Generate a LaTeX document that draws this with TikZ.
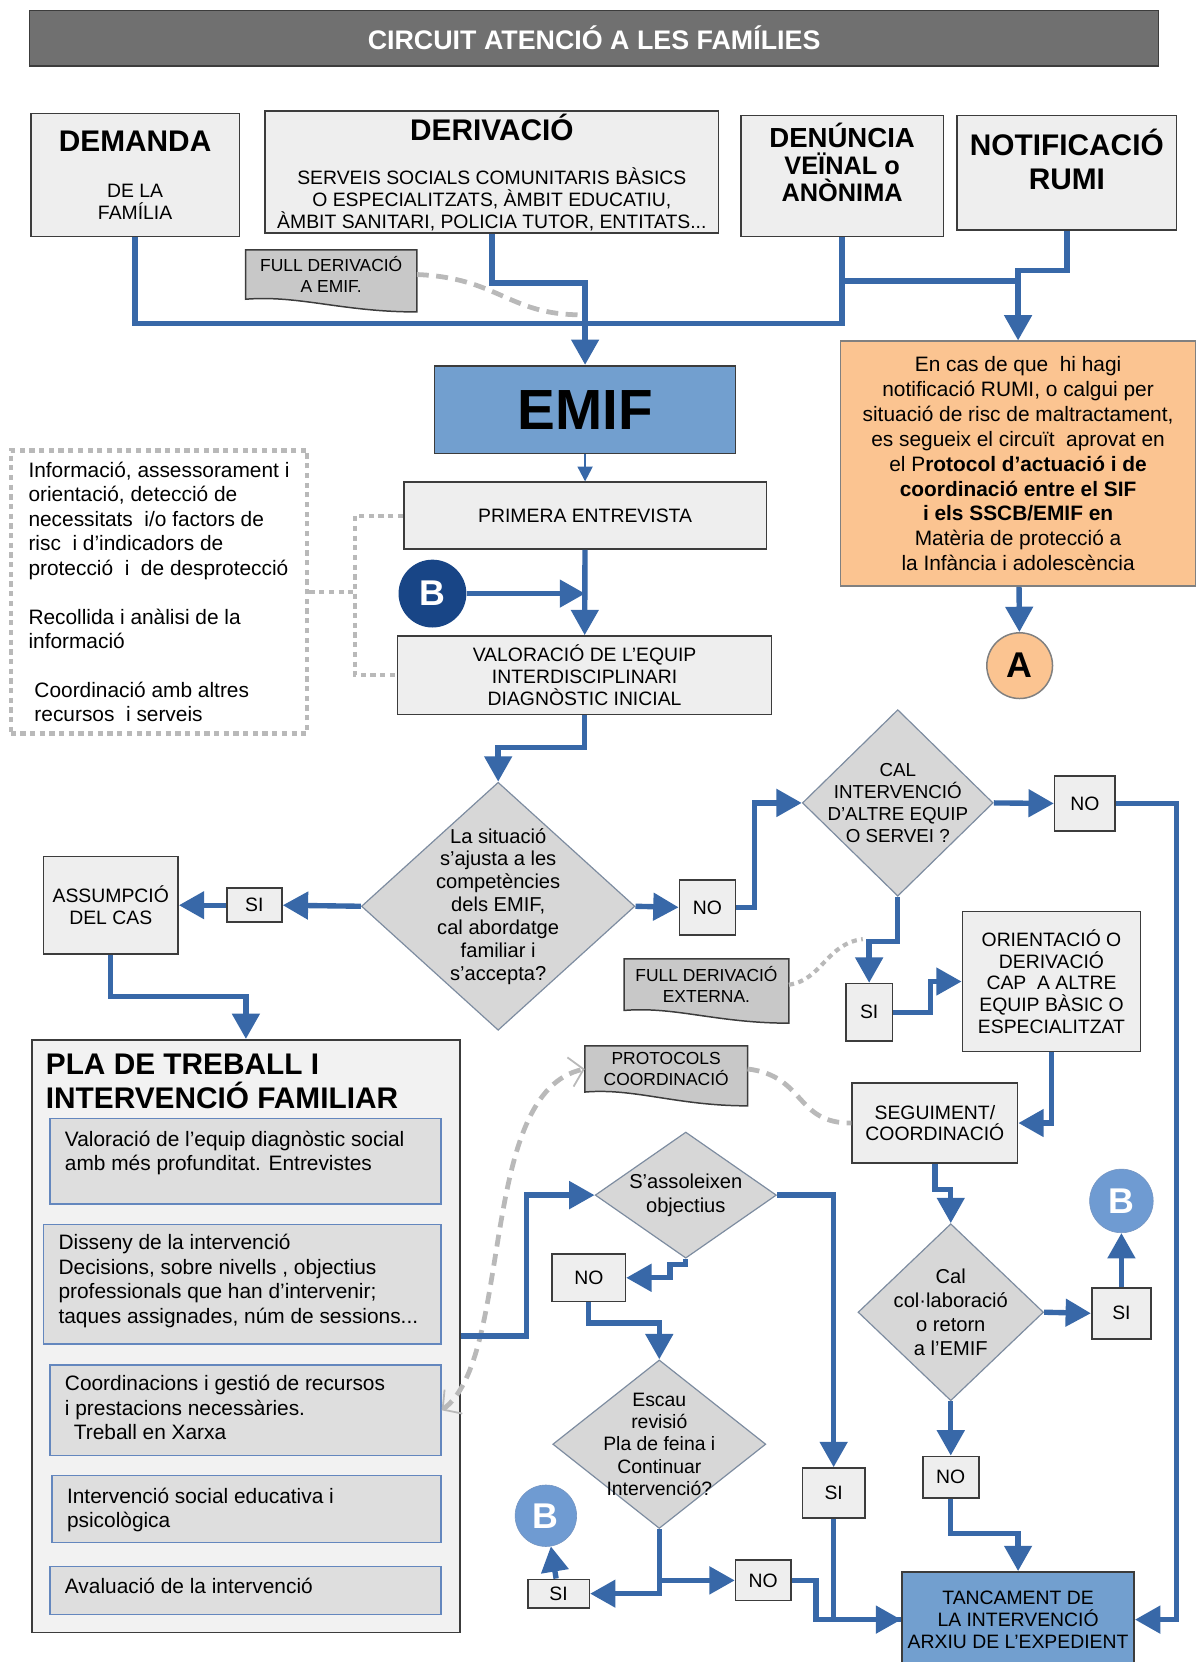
\documentclass[tikz,border=0pt]{standalone}
\usepackage{fontspec}
\setmainfont{Liberation Sans}
\usetikzlibrary{shapes.geometric,arrows.meta,calc,backgrounds}
\newcommand{\pxu}{0.025cm}
\definecolor{flowblue}{RGB}{56,104,168}
\definecolor{boxgray}{RGB}{238,238,238}
\definecolor{boxedge}{RGB}{60,60,60}
\definecolor{titlegray}{RGB}{112,112,112}
\definecolor{emifblue}{RGB}{114,159,207}
\definecolor{navyb}{RGB}{24,69,134}
\definecolor{lightb}{RGB}{111,155,210}
\definecolor{diagray}{RGB}{215,215,215}
\definecolor{diaedge}{RGB}{125,140,160}
\definecolor{docgray}{RGB}{200,200,200}
\definecolor{orangebox}{RGB}{251,196,145}
\definecolor{plafill}{RGB}{242,242,242}
\definecolor{innerfill}{RGB}{222,222,222}
\definecolor{inneredge}{RGB}{100,135,190}
\definecolor{dashgray}{RGB}{185,185,185}
\begin{document}
\begin{tikzpicture}[x=0.025cm, y=-0.025cm,
  gbox/.style 2 args={draw=boxedge, fill=boxgray, line width=1.1pt, minimum width=#1*\pxu, minimum height=#2*\pxu, inner sep=0pt, align=center, font=\fontsize{13}{14.6}\selectfont},
  dia/.style 2 args={diamond, draw=diaedge, fill=diagray, line width=0.8pt, minimum width=#1*\pxu, minimum height=#2*\pxu, inner sep=0pt},
  qtext/.style={font=\fontsize{13.5}{15.3}\selectfont, align=center},
  doctext/.style 2 args={font=\fontsize{11.7}{14.2}\selectfont, align=center, minimum width=#1*\pxu, minimum height=#2*\pxu, inner sep=0pt},
  docshape/.style={draw=boxedge, fill=docgray, line width=1pt},
  inbox/.style 2 args={draw=inneredge, fill=innerfill, line width=1pt, minimum width=#1*\pxu, minimum height=#2*\pxu},
  intext/.style={anchor=north west, inner sep=0pt, align=left, font=\fontsize{14}{16.4}\selectfont},
  bcirc/.style={circle, text=white, font=\fontsize{24}{26}\bfseries, inner sep=0pt},
  flowline/.style={draw=flowblue, line width=3.6pt},
  flowarrow/.style={flowline, -{Triangle[length=17pt,width=18pt]}},
  thinarrow/.style={draw=flowblue, line width=1.5pt, -{Triangle[length=10pt,width=10pt]}},
  dotline/.style={draw=dashgray, line width=2.8pt, dash pattern=on 3.5pt off 3pt},
  dashline/.style={draw=dashgray, line width=3.2pt, dash pattern=on 8pt off 5pt}]
\useasboundingbox (0,0) rectangle (1128,1568);

\node[gbox={1065}{52}, fill=titlegray, draw=boxedge, text=white, font=\fontsize{18}{20}\bfseries] (title) at (560.5,36) {CIRCUIT ATENCIÓ A LES FAMÍLIES};

\node[gbox={197}{116}] (demanda) at (127.5,165) {{\fontsize{20}{22}\bfseries DEMANDA}\\[16.4pt]DE LA\\FAMÍLIA};
\node[gbox={428}{115}] (deriv) at (464,162.5) {{\fontsize{20}{22}\bfseries DERIVACIÓ}\\[15pt]SERVEIS SOCIALS COMUNITARIS BÀSICS\\O ESPECIALITZATS, ÀMBIT EDUCATIU,\\ÀMBIT SANITARI, POLICIA TUTOR, ENTITATS...};
\node[gbox={191}{114}, label={[font=\fontsize{17}{18.3}\bfseries, align=center, yshift=9pt]center:{{\fontsize{18.5}{20}\selectfont DENÚNCIA}\\VEÏNAL o\\ANÒNIMA}}] (denun) at (794.5,166) {};
\node[gbox={207}{108}, label={[font=\fontsize{20}{22.8}\bfseries, align=center, yshift=9pt]center:{NOTIFICACIÓ\\RUMI}}] (notif) at (1006.5,163) {};
\node[doctext={161}{46}] (fullemif) at (312.5,259) {FULL DERIVACIÓ\\A EMIF.};

\node[gbox={284}{83}, fill=emifblue, font=\fontsize{38}{40}\bfseries] (emif) at (552,386.5) {EMIF};
\node[gbox={335}{231}, fill=orangebox, draw=gray, font=\fontsize{14}{16.7}\selectfont] (rumi) at (960.5,437.5) {En cas de que\ \ hi hagi\\notificació RUMI, o calgui per\\situació de risc de maltractament,\\es segueix el circuït\ \ aprovat en\\el P\textbf{rotocol d’actuació i de}\\\textbf{coordinació entre el SIF}\\\textbf{i els SSCB/EMIF en}\\Matèria de protecció a\\la Infància i adolescència};
\node[circle, fill=orangebox, draw=gray, line width=1pt, minimum size=62*\pxu, inner sep=0pt, font=\fontsize{24}{26}\bfseries] (acirc) at (962,628) {A};

\node[gbox={342}{63}] (primera) at (552,486.5) {PRIMERA ENTREVISTA};
\node[bcirc, fill=navyb, minimum size=64*\pxu] (bnavy) at (408,560) {B};
\node[gbox={353}{74}, font=\fontsize{13}{15}\selectfont] (valor) at (551.5,637) {VALORACIÓ DE L’EQUIP\\INTERDISCIPLINARI\\DIAGNÒSTIC INICIAL};
\node[draw=dashgray, dotline, minimum width=280*\pxu, minimum height=267*\pxu, align=left, inner sep=0pt, font=\fontsize{14}{16.4}\selectfont] (infobox) at (150,558.5) {Informació, assessorament i\\orientació, detecció de\\necessitats\ \ i/o factors de\\risc\ \ i d’indicadors de\\protecció\ \ i\ \ de desprotecció\\[16.4pt]Recollida i anàlisi de la\\informació\\[16.4pt]\hspace{4pt}Coordinació amb altres\\\hspace{4pt}recursos\ \ i serveis};

\node[dia={258}{234}, label={[qtext]center:{La situació\\s’ajusta a les\\competències\\dels EMIF,\\cal abordatge\\familiar i\\s’accepta?}}] (q1) at (470,855) {};
\node[gbox={52}{32}] (si1) at (240,854) {SI};
\node[gbox={127}{92}, font=\fontsize{13}{15}\selectfont] (assump) at (104.5,854) {ASSUMPCIÓ\\DEL CAS};
\node[gbox={53}{52}] (no1) at (667.5,856) {NO};
\node[dia={180}{176}, label={[qtext, font=\fontsize{12.6}{14.6}\selectfont]center:{CAL\\INTERVENCIÓ\\D’ALTRE EQUIP\\O SERVEI ?}}] (q2) at (847,757.5) {};
\node[gbox={57}{52}] (no2) at (1023.5,758) {NO};
\node[gbox={44}{54}] (si2) at (820,955) {SI};
\node[gbox={168}{132}] (orient) at (992,926) {ORIENTACIÓ O\\DERIVACIÓ\\CAP\ \ A ALTRE\\EQUIP BÀSIC O\\ESPECIALITZAT};
\node[doctext={155}{48}] (fullext) at (666.5,929) {FULL DERIVACIÓ\\EXTERNA.};
\node[gbox={156}{75}] (seguim) at (882,1059.5) {SEGUIMENT/\\COORDINACIÓ};
\node[doctext={153}{43}] (protoc) at (628.5,1008.5) {PROTOCOLS\\COORDINACIÓ};

\node[dia={175}{167}, label={[qtext, font=\fontsize{13.5}{16}\selectfont]center:{Cal\\col·laboració\\o retorn\\a l’EMIF}}] (q3) at (897,1238) {};
\node[gbox={56}{48}] (si3) at (1058,1239) {SI};
\node[bcirc, fill=lightb, draw=flowblue!70, minimum size=60*\pxu] (b2) at (1058,1133) {B};
\node[gbox={53}{39}] (no3) at (897,1393.5) {NO};
\node[gbox={219}{90}, fill=emifblue] (tanc) at (960.5,1528) {TANCAMENT DE\\LA INTERVENCIÓ\\ARXIU DE L’EXPEDIENT};

\node[draw=boxedge, fill=plafill, line width=1.1pt, minimum width=404*\pxu, minimum height=559*\pxu] (pla) at (232,1260.5) {};
\node[anchor=north west, inner sep=0pt, align=left, font=\fontsize{20}{22.8}\bfseries] (platitle) at (43,994) {PLA DE TREBALL I\\INTERVENCIÓ FAMILIAR};
\node[inbox={369}{81}] (valeq) at (231.5,1095.5) {};
\node[intext] (valeqtext) at (61,1066.5) {Valoració de l’equip diagnòstic social\\amb més profunditat. Entrevistes};
\node[inbox={375}{113}] (disseny) at (228.5,1211.5) {};
\node[intext] (dissenytext) at (55,1164.5) {Disseny de la intervenció\\Decisions, sobre nivells , objectius\\professionals que han d’intervenir;\\taques assignades, núm de sessions...};
\node[inbox={369}{85}] (coord) at (231.5,1330.5) {};
\node[intext] (coordtext) at (61,1297.5) {Coordinacions i gestió de recursos\\i prestacions necessàries.\\\hspace{6pt}Treball en Xarxa};
\node[inbox={367}{63}] (interv) at (232.5,1423.5) {};
\node[intext] (intervtext) at (63,1403.5) {Intervenció social educativa i\\psicològica};
\node[inbox={369}{45}] (avalua) at (231.5,1500.5) {};
\node[intext] (avaluatext) at (61,1488.5) {Avaluació de la intervenció};

\node[dia={171}{119}, label={[qtext, font=\fontsize{13.5}{16.5}\selectfont]center:{S’assoleixen\\objectius}}] (q4) at (647,1127.5) {};
\node[gbox={69}{45}] (no4) at (555.5,1205.5) {NO};
\node[dia={201}{159}, label={[qtext, font=\fontsize{13}{15}\selectfont]center:{Escau\\revisió\\Pla de feina i\\Continuar\\Intervenció?}}] (q5) at (622,1362.5) {};
\node[gbox={59}{47}] (si4) at (786.5,1408.5) {SI};
\node[gbox={58}{27}] (si5) at (527,1503.5) {SI};
\node[gbox={52}{38}] (no5) at (720,1491) {NO};
\node[bcirc, fill=lightb, draw=flowblue!70, minimum size=58*\pxu] (b3) at (515,1430) {B};

\begin{scope}[on background layer]
\draw[docshape] (fullemif.north west) -- (fullemif.north east) -- ($(fullemif.south east)+(0,12)$) .. controls ($(fullemif.south)+(10,12)$) and ($(fullemif.south)+(-30,-4)$) .. (fullemif.south west) -- cycle;
\draw[docshape] (fullext.north west) -- (fullext.north east) -- ($(fullext.south east)+(0,12)$) .. controls ($(fullext.south)+(10,12)$) and ($(fullext.south)+(-30,-4)$) .. (fullext.south west) -- cycle;
\draw[docshape] (protoc.north west) -- (protoc.north east) -- ($(protoc.south east)+(0,13)$) .. controls ($(protoc.south)+(10,13)$) and ($(protoc.south)+(-30,-4)$) .. (protoc.south west) -- cycle;
\end{scope}

\coordinate (mergeA) at (552,305);
\coordinate (bendD) at (500,267);
\coordinate (forkN) at (795,265);
\coordinate (bendN) at (980,255);
\coordinate (dashend) at (548,297);
\draw[flowline] (demanda.south) |- (mergeA);
\draw[flowline] (denun.south) |- (mergeA);
\draw[flowarrow] (deriv.south) |- (bendD) -| (emif.north);
\draw[flowarrow] (notif.south) |- (bendN) -| (rumi.north);
\draw[flowline] (forkN) -- (forkN -| rumi.north);
\draw[dashline] (fullemif.east) .. controls (470,262) and (480,297) .. (dashend);
\draw[flowarrow] (rumi) -- (acirc);

\draw[thinarrow] (emif) -- (primera);
\draw[flowarrow] (primera) -- (valor);
\draw[flowarrow] (bnavy) -- (bnavy -| primera.south);
\coordinate (dotx) at (335,560);
\draw[dotline] (primera.west) -| (dotx) |- (valor.west);
\draw[dotline] (infobox.east) -- (infobox.east -| dotx);

\coordinate (bendV) at (500,705);
\draw[flowarrow] (valor.south) |- (bendV) -| (q1.north);
\draw[flowarrow] (q1.west) -- (si1.east);
\draw[flowarrow] (si1.west) -- (assump.east);
\coordinate (bendAs) at (150,940);
\draw[flowarrow] (assump.south) |- (bendAs) -| (pla.north);
\draw[flowarrow] (q1.east) -- (no1.west);
\coordinate (bendN1) at (712,800);
\draw[flowarrow] (no1.east) -| (bendN1) |- (q2.west);
\draw[flowarrow] (q2.east) -- (no2.west);
\coordinate (bendR) at (1110,1000);
\draw[flowarrow] (no2.east) -| (bendR) |- (tanc.east);
\coordinate (bendS2) at (835,888);
\draw[flowarrow] (q2.south) |- (bendS2) -| (si2.north);
\coordinate (bendS2b) at (878,940);
\draw[flowarrow] (si2.east) -| (bendS2b) |- (orient.west);
\coordinate (dotend) at (814,886);
\draw[dotline] (fullext.east) .. controls (775,925) and (780,890) .. (dotend);
\draw[flowarrow] (orient.south) |- (seguim.east);
\draw[dashline] (protoc.east) .. controls (760,1015) and (750,1060) .. (seguim.west);
\draw[dashline, {Straight Barb[length=9pt,width=20pt,line width=1.2pt]}-{Straight Barb[length=9pt,width=20pt,line width=1.2pt]}] (coord.east) .. controls (485,1280) and (450,1030) .. (protoc.west);

\coordinate (bendSg) at (890,1122);
\draw[flowarrow] (seguim.south) |- (bendSg) -| (q3.north);
\draw[flowarrow] (q3.east) -- (si3.west);
\draw[flowarrow] (si3) -- (b2);
\draw[flowarrow] (q3) -- (no3);
\coordinate (bendN3) at (930,1447);
\draw[flowarrow] (no3.south) |- (bendN3) -| (tanc.north);

\coordinate (bendP) at (497,1200);
\draw[flowarrow] (pla.east) -| (bendP) |- (q4.west);
\draw[flowarrow] (q4.east) -| (si4.north);
\draw[flowarrow] (si4.south) |- (tanc.west);
\coordinate (jogA) at (632,1193);
\draw[flowarrow] (q4.south) |- (jogA) |- (no4.east);
\coordinate (bendN4) at (590,1248);
\draw[flowarrow] (no4.south) |- (bendN4) -| (q5.north);
\draw[flowarrow] (q5.south) |- (no5.west);
\draw[flowarrow] (q5.south) |- (si5.east);
\draw[flowarrow] (si5) -- (b3);
\coordinate (bendN5) at (770,1500);
\draw[flowline] (no5.east) -| (bendN5) |- (tanc.west);
\end{tikzpicture}
\end{document}
